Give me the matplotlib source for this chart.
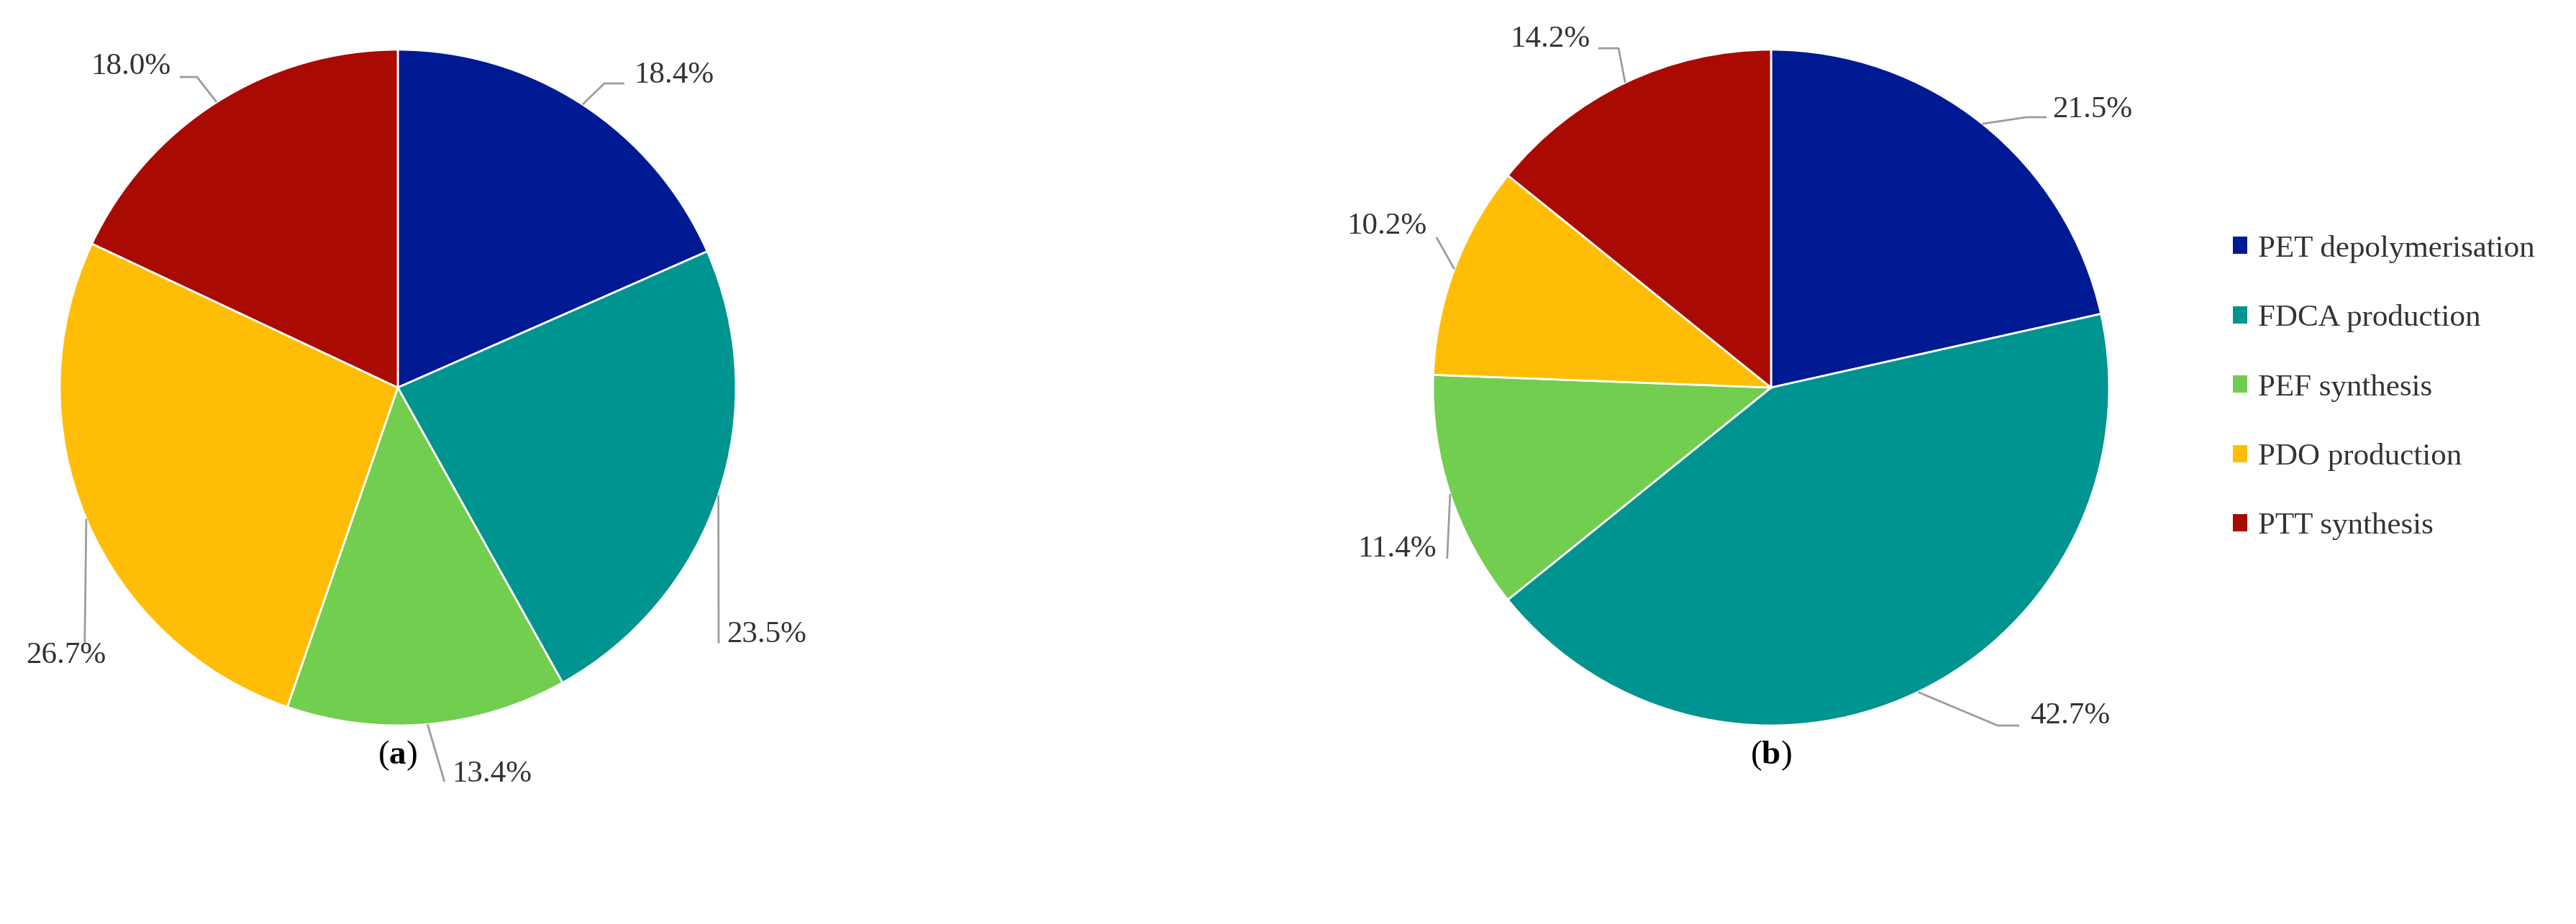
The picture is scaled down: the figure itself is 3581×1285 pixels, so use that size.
import numpy as np
import matplotlib.pyplot as plt
from matplotlib.patches import Patch

plt.rcParams['font.family'] = ['Liberation Serif', 'DejaVu Serif']
plt.rcParams['mathtext.fontset'] = 'custom'
plt.rcParams['mathtext.rm'] = 'Liberation Serif'
plt.rcParams['mathtext.bf'] = 'Liberation Serif:bold'

# data
categories = ['PET depolymerisation', 'FDCA production', 'PEF synthesis',
              'PDO production', 'PTT synthesis']
share_a = [18.4, 23.5, 13.4, 26.7, 18.0]   # % per step, chart (a)
share_b = [21.5, 42.7, 11.4, 10.2, 14.2]   # % per step, chart (b)
panels = ['a', 'b']
colors = ['#001A94', '#009490', '#72CE4E', '#FFBE05', '#A90A02']

# label layout in pie-radius units:
# (elbow x, elbow y, end of horizontal tick x, text x, text baseline y, ha)
layout_a = [(0.611, 0.900, 0.670, 0.698, 0.902, 'left'),
            (0.949, -0.757, 0.949, 0.972, -0.753, 'left'),
            (0.138, -1.166, 0.138, 0.160, -1.166, 'left'),
            (-0.926, -0.757, -0.926, -0.981, -0.815, 'center'),
            (-0.594, 0.919, -0.645, -0.672, 0.928, 'right')]
layout_b = [(0.755, 0.800, 0.815, 0.832, 0.800, 'left'),
            (0.670, -1.000, 0.734, 0.766, -0.994, 'left'),
            (-0.958, -0.506, -0.958, -0.989, -0.500, 'right'),
            (-0.990, 0.445, -0.990, -1.019, 0.455, 'right'),
            (-0.451, 1.004, -0.511, -0.536, 1.009, 'right')]

W, H = 3581, 1285      # output size in px
R = 470                # pie radius in px
centres = [(553, 539), (2462, 539)]
panel_y = 1051

fig = plt.figure(figsize=(W / 100, H / 100), dpi=100)


def draw_pie(cx, cy, values, layout, panel):
    ax = fig.add_axes([(cx - 1.3 * R) / W, (H - cy - 1.3 * R) / H,
                       2.6 * R / W, 2.6 * R / H])
    wedges, _ = ax.pie(values, colors=colors, startangle=90, counterclock=False,
                       radius=1, wedgeprops=dict(edgecolor='white', linewidth=2))
    ax.set_xlim(-1.3, 1.3)
    ax.set_ylim(-1.3, 1.3)
    ax.axis('off')
    for w, v, (ex, ey, hx, tx, ty, ha) in zip(wedges, values, layout):
        mid = np.deg2rad((w.theta1 + w.theta2) / 2)
        x0, y0 = np.cos(mid), np.sin(mid)
        ax.plot([x0, ex, hx], [y0, ey, ey], color='#9c9c9c', lw=2,
                clip_on=False, solid_capstyle='butt')
        ax.text(tx, ty, f'{v:.1f}%', ha=ha, va='baseline', fontsize=31,
                color='#333333', clip_on=False)
    fig.text(cx / W, 1 - panel_y / H, '(' + r'$\mathbf{' + panel + '}$' + ')',
             ha='center', va='center', fontsize=34, color='black')


draw_pie(*centres[0], share_a, layout_a, panels[0])
draw_pie(*centres[1], share_b, layout_b, panels[1])

handles = [Patch(facecolor=c) for c in colors]
fig.legend(handles, categories, loc='center left',
           bbox_to_anchor=(3104 / W, 1 - 539 / H), frameon=False,
           fontsize=31, handlelength=0.47, handleheight=0.47,
           handletextpad=0.35, labelspacing=1.34, borderpad=0,
           borderaxespad=0, labelcolor='#333333')

fig.savefig('out.png', dpi=100)
